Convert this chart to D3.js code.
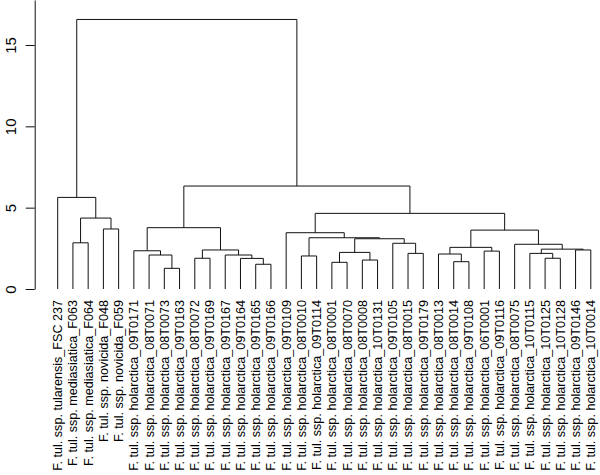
<!DOCTYPE html>
<html>
<head>
<meta charset="utf-8">
<script src="https://cdn.jsdelivr.net/npm/d3@7/dist/d3.min.js"></script>
<style>
  body { margin: 0; background: #fff; }
  svg { display: block; font-family: "Liberation Sans", Arial, Helvetica, sans-serif; }
</style>
</head>
<body>
<svg id="chart" width="600" height="475"></svg>
<script>
// leaf labels, left to right as drawn
const labels = [
  "F. tul. ssp. tularensis_FSC 237",
  "F. tul. ssp. mediasiatica_F063",
  "F. tul. ssp. mediasiatica_F064",
  "F. tul. ssp. novicida_F048",
  "F. tul. ssp. novicida_F059",
  "F. tul. ssp. holarctica_09T0171",
  "F. tul. ssp. holarctica_08T0071",
  "F. tul. ssp. holarctica_08T0073",
  "F. tul. ssp. holarctica_09T0163",
  "F. tul. ssp. holarctica_08T0072",
  "F. tul. ssp. holarctica_09T0169",
  "F. tul. ssp. holarctica_09T0167",
  "F. tul. ssp. holarctica_09T0164",
  "F. tul. ssp. holarctica_09T0165",
  "F. tul. ssp. holarctica_09T0166",
  "F. tul. ssp. holarctica_09T0109",
  "F. tul. ssp. holarctica_08T0010",
  "F. tul. ssp. holarctica_09T0114",
  "F. tul. ssp. holarctica_08T0001",
  "F. tul. ssp. holarctica_08T0070",
  "F. tul. ssp. holarctica_08T0008",
  "F. tul. ssp. holarctica_10T0131",
  "F. tul. ssp. holarctica_09T0105",
  "F. tul. ssp. holarctica_08T0015",
  "F. tul. ssp. holarctica_09T0179",
  "F. tul. ssp. holarctica_08T0013",
  "F. tul. ssp. holarctica_08T0014",
  "F. tul. ssp. holarctica_09T0108",
  "F. tul. ssp. holarctica_06T0001",
  "F. tul. ssp. holarctica_09T0116",
  "F. tul. ssp. holarctica_08T0075",
  "F. tul. ssp. holarctica_10T0115",
  "F. tul. ssp. holarctica_10T0125",
  "F. tul. ssp. holarctica_10T0128",
  "F. tul. ssp. holarctica_09T0146",
  "F. tul. ssp. holarctica_10T0014"
];

// merges like R's hclust: negative = leaf number, positive = earlier merge
const mergeLeft  = [-8, -7, -6, -10, -14, -13, -12, 4, 3, -17, -19, -21, 11, -24, -23, 13, 10, -16,
                    -27, -26, -29, 20, -33, -32, -35, 24, -31, 22, 18, 9, -2, -4, 31, -1, 34];
const mergeRight = [-9, 1, 2, -11, -15, 5, 6, 7, 8, -18, -20, -22, 12, -25, 14, 15, 16, 17,
                    -28, 19, -30, 21, -34, 23, -36, 25, 26, 27, 28, 29, -3, -5, 32, 33, 30];
const heights    = [1.27, 2.09, 2.35, 1.89, 1.52, 1.88, 2.09, 2.40, 3.77, 2.03, 1.64, 1.78, 2.25, 2.19, 2.81, 3.09, 3.15, 3.46,
                    1.68, 2.15, 2.33, 2.56, 1.89, 2.19, 2.40, 2.45, 2.75, 3.62, 4.65, 6.33, 2.84, 3.69, 4.36, 5.63, 16.57];

const yTicks = [0, 5, 10, 15];

const svg = d3.select('#chart');

const x = d3.scaleLinear().domain([1, labels.length]).range([57.7, 590.8]);
const y = d3.scaleLinear().domain([0, 15]).range([289, 45]);

// build nested tree from the merge table
function node(ref) {
  if (ref < 0) return { leaf: ref, height: 0 };
  const i = ref - 1;
  return { height: heights[i], children: [node(mergeLeft[i]), node(mergeRight[i])] };
}
const root = d3.hierarchy(node(heights.length));

// leaves placed by their number, inner nodes at the middle of their two children
root.eachAfter(d => {
  if (!d.children) d.px = x(-d.data.leaf);
  else d.px = (d.children[0].px + d.children[1].px) / 2;
  d.py = y(d.data.height);
});

const g = svg.append('g');

root.descendants().filter(d => d.children).forEach(d => {
  const [a, b] = d.children;
  g.append('path')
    .attr('d', `M${a.px},${a.py}V${d.py}H${b.px}V${b.py}`)
    .attr('fill', 'none')
    .attr('stroke', '#111')
    .attr('stroke-width', 1);
});

// leaf labels, rotated, top end just under the baseline
g.selectAll('text.leaf')
  .data(root.leaves())
  .enter().append('text')
  .attr('class', 'leaf')
  .attr('transform', d => `translate(${d.px},${y(0) + 11}) rotate(-90)`)
  .attr('dy', '0.35em')
  .attr('text-anchor', 'end')
  .style('font-size', '12.6px')
  .text(d => labels[-d.data.leaf - 1]);

// y axis, line carried up to the top of the picture
const yAxisScale = d3.scaleLinear().domain([0, y.invert(0)]).range([y(0), 0]);
const axis = svg.append('g')
  .attr('transform', 'translate(34.7,0)')
  .call(d3.axisLeft(yAxisScale).tickValues(yTicks).tickSize(9).tickSizeOuter(0));

axis.select('.domain').attr('stroke', '#111');
axis.selectAll('.tick line').attr('stroke', '#111');
axis.selectAll('.tick text')
  .attr('x', 0)
  .attr('dy', 0)
  .attr('text-anchor', 'middle')
  .attr('transform', 'translate(-18.5,0) rotate(-90)')
  .attr('fill', '#000')
  .style('font-size', '15px')
  .style('font-family', '"Liberation Sans", Arial, sans-serif');
</script>
</body>
</html>
